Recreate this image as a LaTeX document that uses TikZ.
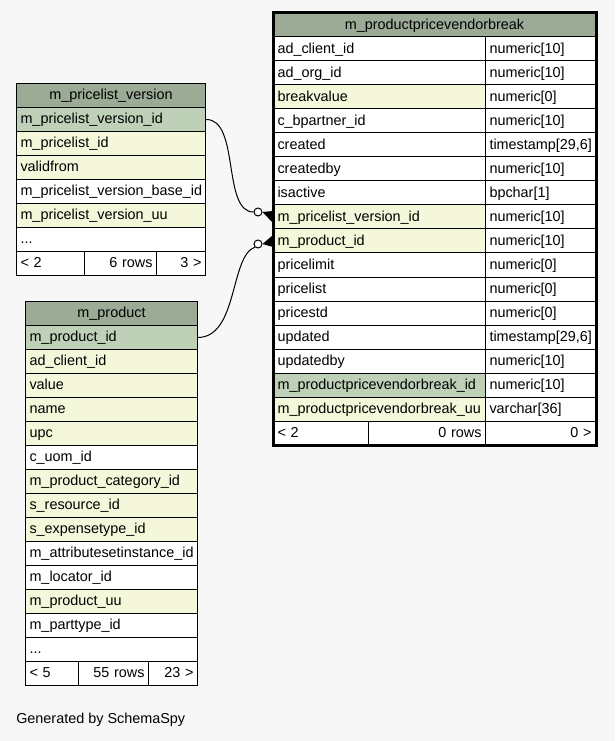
\documentclass[tikz,border=0pt]{standalone}
\usepackage{fontspec}
\setmainfont{Liberation Sans}
\usepackage{xcolor}

\definecolor{bgcol}{HTML}{F7F7F7}
\definecolor{hdr}{HTML}{9BAB96}
\definecolor{pk}{HTML}{BED1B8}
\definecolor{fk}{HTML}{F4F7DA}
\newcommand{\rowdots}{...}

\tikzset{
	cell/.style={draw=black, line width=0.75pt, anchor=north west, inner xsep=3pt, inner ysep=0pt,
		minimum height=18pt, text height=8.6pt, text depth=2.4pt, align=left,
		font={\fontsize{10.8}{12}\selectfont\hyphenpenalty=10000}},
	head/.style={cell, fill=hdr, align=center},
	numr/.style={cell, fill=white, align=right},
	odot/.style={circle, draw=black, fill=white, line width=0.75pt, inner sep=0pt, minimum size=6pt}
}

\begin{document}
\begin{tikzpicture}[x=0.75pt, y=-0.75pt]
	\useasboundingbox [fill=bgcol] (0,0) rectangle (615,741);

	% m_pricelist_version
	\node [head, text width=135.75pt] (pv-hd) at (16,83) {m\_pricelist\_version};
	\foreach \nm/\txt/\bg [count=\i from 0] in {id/m\_pricelist\_version\_id/pk, pl/m\_pricelist\_id/fk,
		vf/validfrom/fk, base/m\_pricelist\_version\_base\_id/white, uu/m\_pricelist\_version\_uu/fk, more/\rowdots/white}
		\node [cell, fill=\bg, text width=135.75pt] (pv-\nm) at (16,{107+24*\i}) {\txt};
	\node [cell, fill=white, text width=45pt] (pv-f1) at (16,251) {< 2};
	\node [numr, text width=48pt] (pv-f2) at (84,251) {6 rows};
	\node [numr, text width=30.75pt] (pv-f3) at (156,251) {3 >};

	% m_product
	\node [head, text width=123pt] (p-hd) at (25,301) {m\_product};
	\foreach \nm/\txt/\bg [count=\i from 0] in {id/m\_product\_id/pk, cl/ad\_client\_id/fk, val/value/fk,
		nm/name/fk, upc/upc/fk, uom/c\_uom\_id/white, cat/m\_product\_category\_id/fk,
		res/s\_resource\_id/fk, exp/s\_expensetype\_id/fk, asi/m\_attributesetinstance\_id/white,
		loc/m\_locator\_id/white, uu/m\_product\_uu/fk, pt/m\_parttype\_id/white, more/\rowdots/white}
		\node [cell, fill=\bg, text width=123pt] (p-\nm) at (25,{325+24*\i}) {\txt};
	\node [cell, fill=white, text width=33.75pt] (p-f1) at (25,661) {< 5};
	\node [numr, text width=46.5pt] (p-f2) at (78,661) {55 rows};
	\node [numr, text width=30.75pt] (p-f3) at (148,661) {23 >};

	% m_productpricevendorbreak
	\node [head, text width=235.5pt] (ppvb-hd) at (273,12.5) {m\_productpricevendorbreak};
	\foreach \nm/\txt/\typ/\bg [count=\i from 0] in {adc/ad\_client\_id/numeric[10]/white,
		ado/ad\_org\_id/numeric[10]/white, brk/breakvalue/numeric[0]/fk,
		bp/c\_bpartner\_id/numeric[10]/white, cr/created/{timestamp[29,6]}/white,
		crb/createdby/numeric[10]/white, act/isactive/bpchar[1]/white,
		plv/m\_pricelist\_version\_id/numeric[10]/fk, prd/m\_product\_id/numeric[10]/fk,
		plim/pricelimit/numeric[0]/white, plst/pricelist/numeric[0]/white,
		pstd/pricestd/numeric[0]/white, upd/updated/{timestamp[29,6]}/white,
		updb/updatedby/numeric[10]/white, id/m\_productpricevendorbreak\_id/numeric[10]/pk,
		uu/m\_productpricevendorbreak\_uu/varchar[36]/fk} {
		\node [cell, fill=\bg, text width=153pt] (ppvb-\nm) at (273,{36.5+24*\i}) {\txt};
		\node [cell, fill=white, text width=76.5pt] (ppvb-\nm-t) at (485,{36.5+24*\i}) {\typ};
	}
	\node [cell, fill=white, text width=65.25pt] (ppvb-f1) at (273,420.5) {< 2};
	\node [numr, text width=81.75pt] (ppvb-f2) at (368,420.5) {0 rows};
	\node [numr, text width=76.5pt] (ppvb-f3) at (485,420.5) {0 >};
	\draw [line width=2.25pt] (ppvb-hd.north west) rectangle (ppvb-f3.south east);

	% relations
	\node [odot] (o1) at (258,212) {};
	\node [odot] (o2) at (258,244) {};
	\draw [line width=0.75pt] (pv-id.east) .. controls (240,119) and (222,212) .. (o1.west);
	\draw [line width=0.75pt] (p-id.east) .. controls (238,337) and (230,256) .. (o2.south west);
	\fill (o1.east) -- ([yshift=4.5pt]ppvb-plv.west) -- ([yshift=-4.5pt]ppvb-plv.west) -- cycle;
	\fill (o2.east) -- ([yshift=4.5pt]ppvb-prd.west) -- ([yshift=-4.5pt]ppvb-prd.west) -- cycle;

	\node [anchor=west, inner sep=0pt, font=\fontsize{10.8}{12}\selectfont] (gen) at (16,720) {Generated by SchemaSpy};
\end{tikzpicture}
\end{document}
